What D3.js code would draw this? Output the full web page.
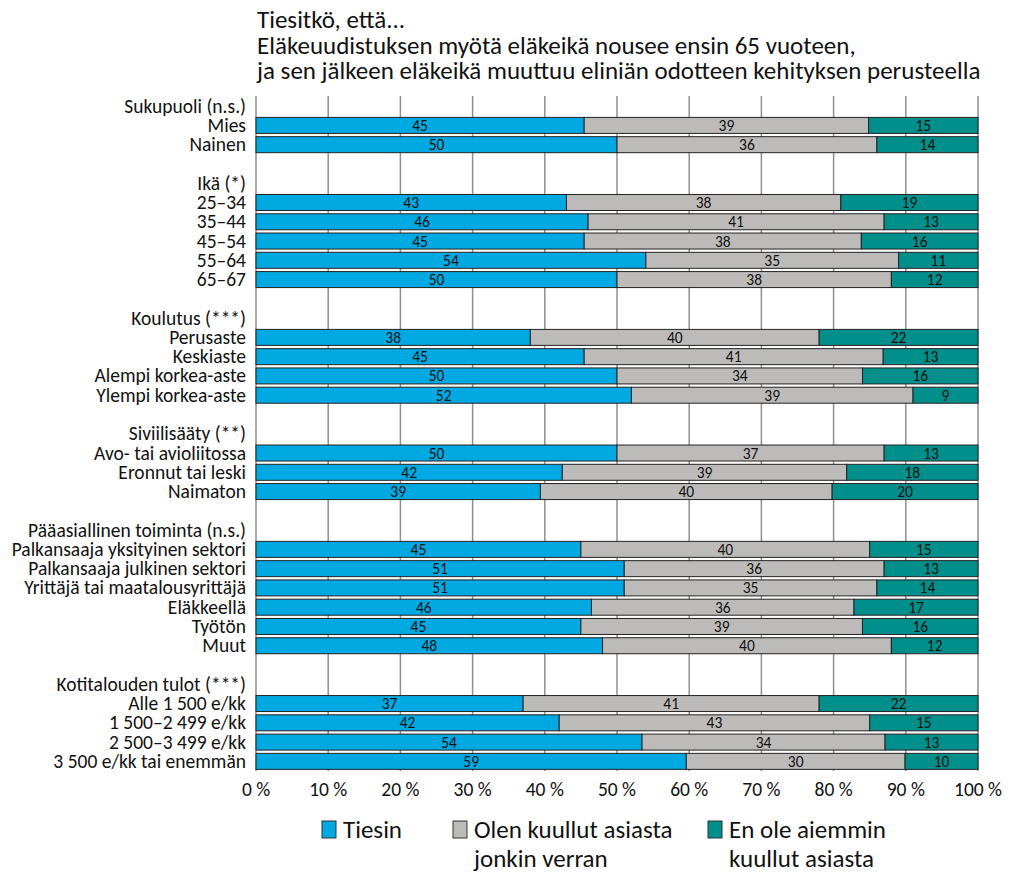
<!DOCTYPE html>
<html><head><meta charset="utf-8">
<script src="https://cdn.jsdelivr.net/npm/d3@7"></script>
<style>
html,body{margin:0;padding:0;background:#fff;}
text{font-family:Carlito,"Liberation Sans Narrow","DejaVu Sans Condensed",sans-serif;fill:#111;}
</style></head>
<body><svg id="c" width="1015" height="875"></svg>
<script>
// ---- data ----
const titleLines = ["Tiesitkö, että...", "Eläkeuudistuksen myötä eläkeikä nousee ensin 65 vuoteen,", "ja sen jälkeen eläkeikä muuttuu eliniän odotteen kehityksen perusteella"];
// rows: header rows have null values; blank rows have empty label
const rowLabels = ["Sukupuoli (n.s.)","Mies","Nainen","",
 "Ikä (*)","25–34","35–44","45–54","55–64","65–67","",
 "Koulutus (***)","Perusaste","Keskiaste","Alempi korkea-aste","Ylempi korkea-aste","",
 "Siviilisääty (**)","Avo- tai avioliitossa","Eronnut tai leski","Naimaton","",
 "Pääasiallinen toiminta (n.s.)","Palkansaaja yksityinen sektori","Palkansaaja julkinen sektori","Yrittäjä tai maatalousyrittäjä","Eläkkeellä","Työtön","Muut","",
 "Kotitalouden tulot (***)","Alle 1 500 e/kk","1 500–2 499 e/kk","2 500–3 499 e/kk","3 500 e/kk tai enemmän"];
const tiesin = [null,45,50,null, null,43,46,45,54,50,null, null,38,45,50,52,null, null,50,42,39,null, null,45,51,51,46,45,48,null, null,37,42,54,59];
const kuullut = [null,39,36,null, null,38,41,38,35,38,null, null,40,41,34,39,null, null,37,39,40,null, null,40,36,35,36,39,40,null, null,41,43,34,30];
const enOle = [null,15,14,null, null,19,13,16,11,12,null, null,22,13,16,9,null, null,13,18,20,null, null,15,13,14,17,16,12,null, null,22,15,13,10];
const seriesNames = ["Tiesin","Olen kuullut asiasta|jonkin verran","En ole aiemmin|kuullut asiasta"];
const seriesColors = ["#00A9E1","#BDBBB9","#008F8B"];
const ticks = [0,10,20,30,40,50,60,70,80,90,100];

// ---- chart ----
const svg = d3.select("#c");
const x = d3.scaleLinear().domain([0,100]).range([256,978]);
const y = d3.scaleBand().domain(d3.range(rowLabels.length)).range([96.5,771]).paddingInner(0.17).paddingOuter(0.085);

// title
const tg = svg.append("g");
titleLines.forEach((t,i)=>{
  tg.append("text").attr("x",257).attr("y",28+i*25.5).attr("font-size",25).text(t);
});

// grid
svg.append("g").selectAll("line").data(ticks).join("line")
  .attr("x1",d=>x(d)).attr("x2",d=>x(d)).attr("y1",96).attr("y2",771)
  .attr("stroke","#8f8f8f").attr("stroke-width",1.5);

// stacked data
const rows = rowLabels.map((l,i)=>({i, label:l, vals:[tiesin[i],kuullut[i],enOle[i]]}));
const barRows = rows.filter(r=>r.vals[0]!==null);
const segs = [];
barRows.forEach(r=>{
  const tot = d3.sum(r.vals); let acc=0;
  r.vals.forEach((v,k)=>{ const p=v/tot*100; segs.push({i:r.i,k,v,x0:acc,x1:acc+p}); acc+=p; });
});
const bh = y.bandwidth();
const bg = svg.append("g");
bg.selectAll("rect").data(segs).join("rect")
  .attr("x",d=>x(d.x0)).attr("width",d=>x(d.x1)-x(d.x0))
  .attr("y",d=>y(d.i)).attr("height",bh)
  .attr("fill",d=>seriesColors[d.k]).attr("stroke","#222").attr("stroke-width",1);
bg.selectAll("text").data(segs).join("text")
  .attr("x",d=>(x(d.x0)+x(d.x1))/2).attr("y",d=>y(d.i)+bh/2+5.5)
  .attr("text-anchor","middle").attr("font-size",15.5).text(d=>d.v);

// row labels
svg.append("g").selectAll("text").data(rows.filter(r=>r.label)).join("text")
  .attr("x",246).attr("y",d=>y(d.i)+bh/2+6.5).attr("text-anchor","end")
  .attr("font-size",19.5).text(d=>d.label);

// x axis labels
svg.append("g").selectAll("text").data(ticks).join("text")
  .attr("x",d=>x(d)).attr("y",796).attr("text-anchor","middle").attr("font-size",19.5)
  .text(d=>d+" %");

// legend
const legX = [322,453,708];
const lg = svg.append("g");
seriesNames.forEach((n,k)=>{
  lg.append("rect").attr("x",legX[k]).attr("y",821).attr("width",14).attr("height",17)
    .attr("fill",seriesColors[k]).attr("stroke","#333").attr("stroke-width",1);
  n.split("|").forEach((t,j)=>{
    lg.append("text").attr("x",legX[k]+21).attr("y",838+j*29).attr("font-size",25).text(t);
  });
});
</script></body></html>
